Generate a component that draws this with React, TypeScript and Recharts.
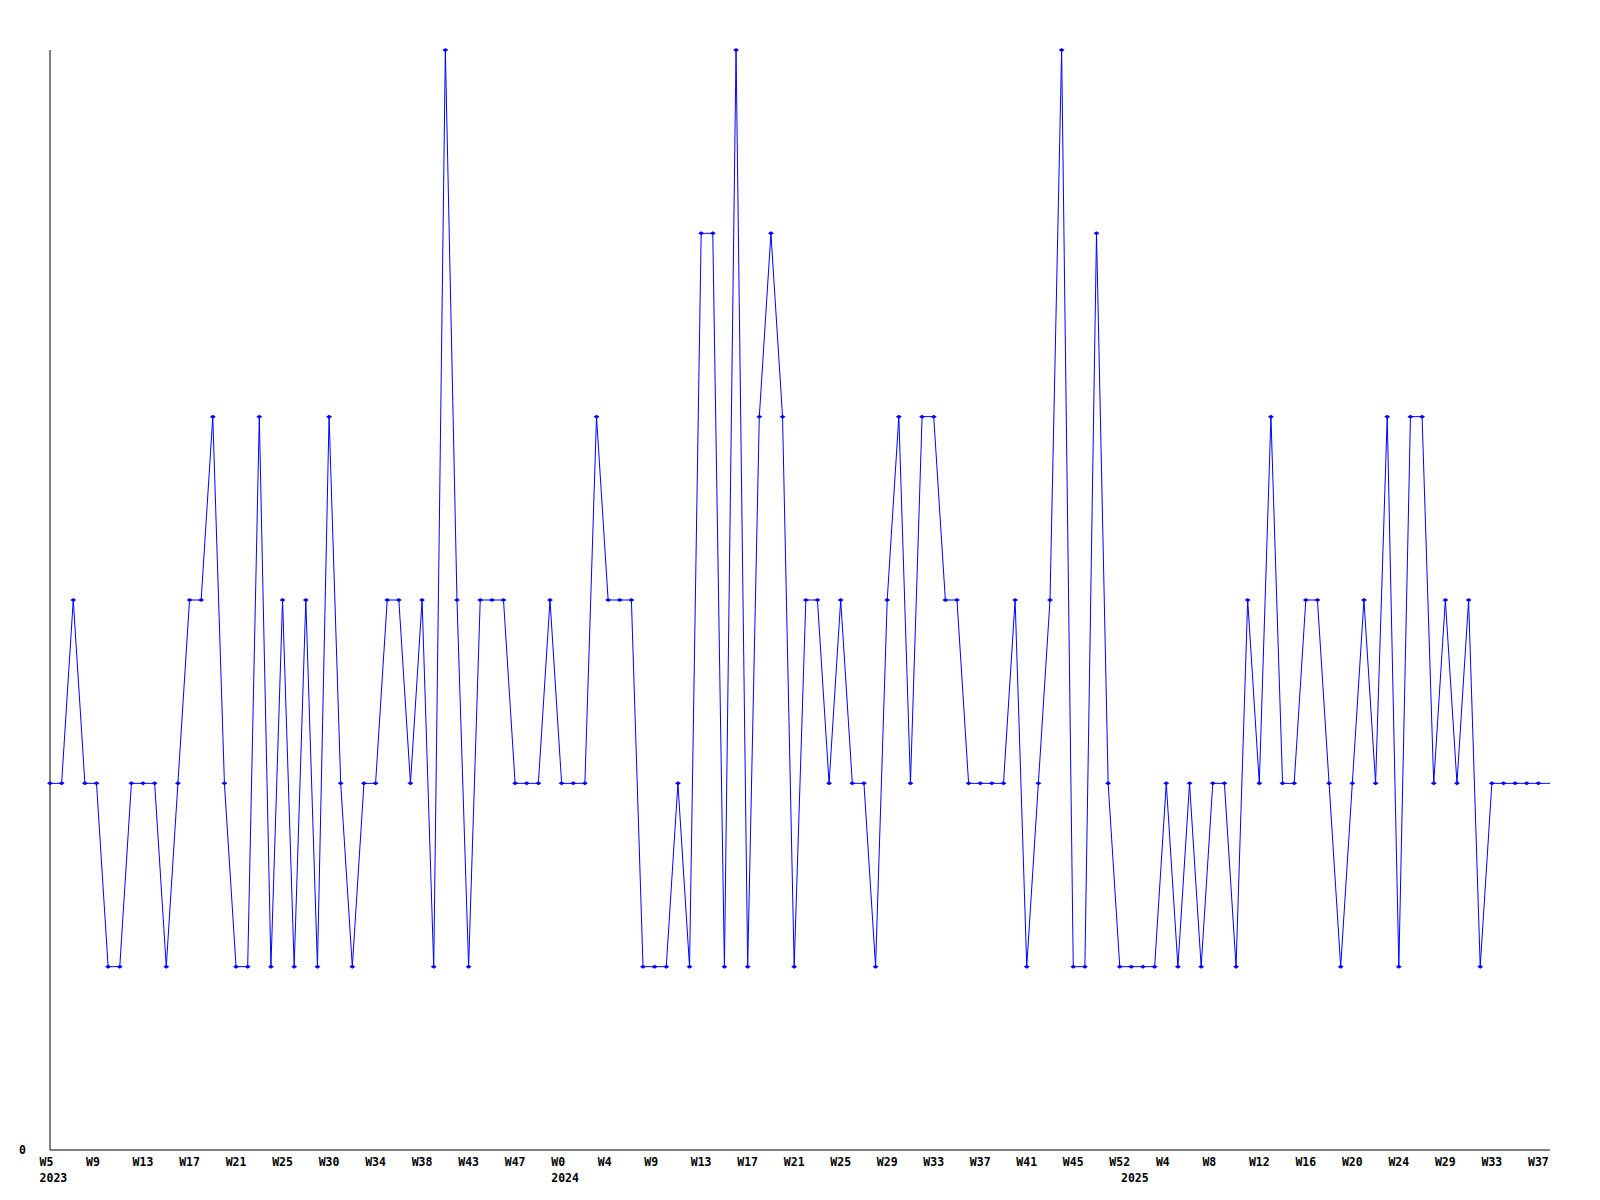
import { LineChart, Line, XAxis, YAxis } from "recharts"

// weekly values, one per point (last point is drawn without a marker)
const values = [
    2, 2, 3, 2, 2, 1, 1, 2, 2, 2, 1, 2, 3, 3, 4, 2, 1, 1, 4, 1, 3, 1,
    3, 1, 4, 2, 1, 2, 2, 3, 3, 2, 3, 1, 6, 3, 1, 3, 3, 3, 2, 2, 2,
    3, 2, 2, 2, 4, 3, 3, 3, 1, 1, 1, 2, 1, 5, 5, 1, 6, 1, 4, 5, 4, 1,
    3, 3, 2, 3, 2, 2, 1, 3, 4, 2, 4, 4, 3, 3, 2, 2, 2, 2, 3, 1, 2,
    3, 6, 1, 1, 5, 2, 1, 1, 1, 1, 2, 1, 2, 1, 2, 2, 1, 3, 2, 4, 2, 2,
    3, 3, 2, 1, 2, 3, 2, 4, 1, 4, 4, 2, 3, 2, 3, 1, 2, 2, 2, 2, 2,
    2,
]

// one week label every 4 points
const weekLabels = [
    "W5", "W9", "W13", "W17", "W21", "W25", "W30", "W34", "W38", "W43", "W47",
    "W0", "W4", "W9", "W13", "W17", "W21", "W25", "W29", "W33", "W37", "W41",
    "W45", "W52", "W4", "W8", "W12", "W16", "W20", "W24", "W29", "W33", "W37",
]
const labelStep = 4

const years = ["2023", "2024", "2025"]
const yearStarts = [0, 44, 93]

const yTicks = [0]

const data = values.map((v, i) => ({ i, v }))
const xTicks = values.map((_, i) => i)

const font = { fontFamily: "'DejaVu Sans Mono', monospace", fontWeight: 700, fontSize: 11.5 }

function XTick(props: any) {
    const { x, y, payload } = props
    const idx = payload.value
    const week = idx % labelStep === 0 ? weekLabels[idx / labelStep] : undefined
    const yr = yearStarts.indexOf(idx)
    return (
        <g>
            {week && (
                <text x={x - 10.4} y={y + 16} textAnchor="start" fill="#000" style={font}>
                    {week}
                </text>
            )}
            {yr >= 0 && (
                <text x={x - 10.4} y={y + 32} textAnchor="start" fill="#000" style={font}>
                    {years[yr]}
                </text>
            )}
        </g>
    )
}

function YTick(props: any) {
    const { x, y, payload } = props
    return (
        <text x={x - 24} y={y + 4} textAnchor="end" fill="#000" style={font}>
            {payload.value}
        </text>
    )
}

function Marker(props: any) {
    const { cx, cy, index } = props
    if (index >= values.length - 1) return <g key={`m-${index}`} />
    return (
        <path
            key={`m-${index}`}
            d={`M${cx - 3},${cy} L${cx},${cy - 2} L${cx + 3},${cy} L${cx},${cy + 2} Z`}
            fill="#0000ff"
            stroke="none"
        />
    )
}

export default function App() {
    return (
        <div style={{ position: "absolute", left: 0, top: 0, width: 1600, height: 1200, background: "#fff" }}>
            <LineChart width={1600} height={1200} data={data} margin={{ top: 50, right: 50, left: 0, bottom: 0 }}>
                <XAxis
                    dataKey="i"
                    type="number"
                    domain={[0, values.length - 1]}
                    ticks={xTicks}
                    interval={0}
                    tick={<XTick />}
                    tickLine={false}
                    tickSize={0}
                    tickMargin={0}
                    axisLine={{ stroke: "#000", strokeWidth: 1 }}
                    height={50}
                />
                <YAxis
                    type="number"
                    domain={[0, 6]}
                    ticks={yTicks}
                    tick={<YTick />}
                    tickLine={false}
                    tickSize={0}
                    tickMargin={0}
                    axisLine={{ stroke: "#000", strokeWidth: 1 }}
                    width={50}
                />
                <Line
                    type="linear"
                    dataKey="v"
                    stroke="#0000ff"
                    strokeWidth={1}
                    dot={Marker}
                    activeDot={false}
                    isAnimationActive={false}
                />
            </LineChart>
        </div>
    )
}
